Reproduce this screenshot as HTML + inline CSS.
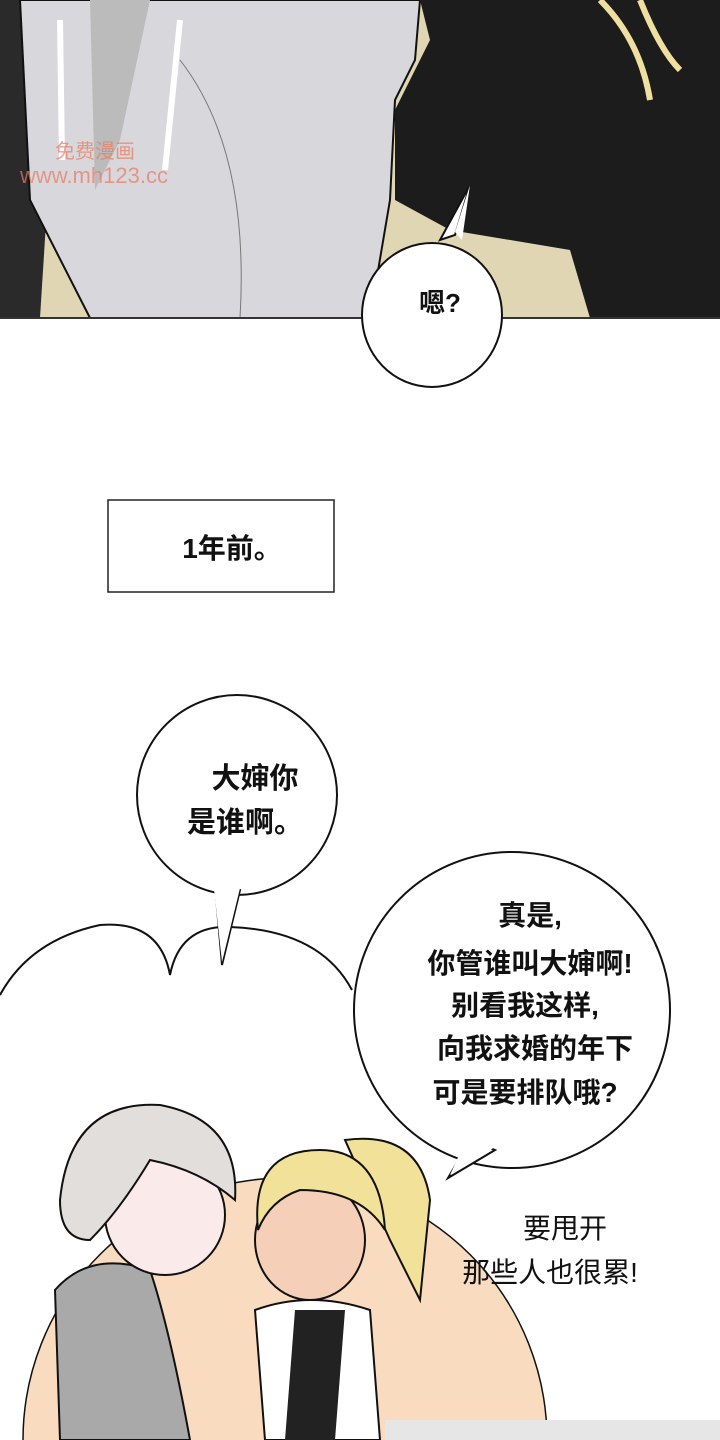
<!DOCTYPE html>
<html><head><meta charset="utf-8"><style>
html,body{margin:0;padding:0;background:#fff;width:720px;height:1440px;overflow:hidden}
svg{display:block}
text{font-family:"Liberation Sans","Noto Sans CJK SC",sans-serif;font-weight:bold;fill:#111}
</style></head><body>
<svg width="720" height="1440" viewBox="0 0 720 1440" xmlns="http://www.w3.org/2000/svg">
<rect x="0" y="0" width="720" height="318" fill="#e0d6b4"/>
<path d="M0 0 L60 0 L40 318 L0 318Z" fill="#2a2a2a"/>
<path d="M20 0 L420 0 L415 60 L395 100 L390 200 L370 318 L90 318 L30 200Z" fill="#d8d8dc" stroke="#111" stroke-width="2"/>
<path d="M90 0 L150 0 L120 140 L95 190Z" fill="#bbb"/>
<path d="M60 20 L62 160 M180 20 L165 170" stroke="#fff" stroke-width="6"/>
<path d="M180 60 Q250 150 240 318" stroke="#777" fill="none"/>
<path d="M420 0 L720 0 L720 318 L590 318 L570 250 L450 230 L395 200 L395 110 L430 40Z" fill="#1c1c1c"/>
<path d="M600 0 Q640 40 650 100 M640 0 Q660 50 680 70" stroke="#efe0a0" stroke-width="6" fill="none"/>
<line x1="0" y1="318" x2="720" y2="318" stroke="#333" stroke-width="2"/>
<text x="55" y="158" font-size="20" style="fill:#e87a60;font-weight:normal" opacity="0.7">免费漫画</text>
<text x="20" y="183" font-size="22" style="fill:#e87a60;font-weight:normal" opacity="0.7">www.mh123.cc</text>
<path d="M470 185 L455 235 L440 240Z" fill="#fff" stroke="#111" stroke-width="2"/>
<ellipse cx="432" cy="315" rx="70" ry="72" fill="#fff" stroke="#111" stroke-width="2"/>
<path d="M455 232 L470 185 L462 240" fill="#fff"/>
<text x="440" y="312" font-size="26" text-anchor="middle">嗯?</text>
<rect x="108" y="500" width="226" height="92" fill="#fff" stroke="#222" stroke-width="1.5"/>
<text x="232" y="558" font-size="28" text-anchor="middle">1年前。</text>
<path d="M0 995 Q30 940 100 925 Q160 920 170 975 Q180 925 230 927 Q320 930 352 990" fill="none" stroke="#111" stroke-width="2"/>
<circle cx="285" cy="1440" r="262" fill="#f9dcc0" stroke="#111" stroke-width="1.5"/>
<circle cx="237" cy="795" r="100" fill="#fff" stroke="#111" stroke-width="2"/>
<path d="M215 885 L222 965 L240 890Z" fill="#fff" stroke="#111" stroke-width="2"/>
<path d="M213 880 L222 962 L242 880Z" fill="#fff"/>
<text x="255" y="788" font-size="29" text-anchor="middle">大婶你</text>
<text x="245" y="832" font-size="29" text-anchor="middle">是谁啊。</text>
<circle cx="512" cy="1010" r="158" fill="#fff" stroke="#111" stroke-width="2"/>
<path d="M470 1140 L448 1178 L495 1150Z" fill="#fff" stroke="#111" stroke-width="2"/>
<path d="M468 1135 L450 1175 L498 1145Z" fill="#fff"/>
<text x="530" y="925" font-size="28" text-anchor="middle">真是,</text>
<text x="530" y="973" font-size="28" text-anchor="middle">你管谁叫大婶啊!</text>
<text x="525" y="1015" font-size="28" text-anchor="middle">别看我这样,</text>
<text x="535" y="1058" font-size="28" text-anchor="middle">向我求婚的年下</text>
<text x="525" y="1102" font-size="28" text-anchor="middle">可是要排队哦?</text>
<text x="565" y="1238" font-size="28" text-anchor="middle" style="font-weight:normal">要甩开</text>
<text x="550" y="1282" font-size="28" text-anchor="middle" style="font-weight:normal">那些人也很累!</text>
<path d="M55 1290 Q90 1250 150 1270 Q170 1330 190 1440 L60 1440Z" fill="#a9a9a9" stroke="#111" stroke-width="2"/>
<ellipse cx="165" cy="1215" rx="60" ry="60" fill="#fbeaea" stroke="#111" stroke-width="2"/>
<path d="M60 1200 Q70 1100 160 1105 Q240 1120 235 1200 Q200 1170 150 1160 Q120 1210 90 1240 Q60 1240 60 1200Z" fill="#e2dedc" stroke="#111" stroke-width="2"/>
<path d="M345 1140 Q420 1130 430 1200 L420 1300 L390 1240Z" fill="#f2e199" stroke="#111" stroke-width="2"/>
<ellipse cx="310" cy="1240" rx="55" ry="60" fill="#f5cfb8" stroke="#111" stroke-width="2"/>
<path d="M258 1230 Q250 1150 320 1150 Q380 1150 385 1230 Q360 1190 300 1190 Q270 1200 258 1230Z" fill="#f2e199" stroke="#111" stroke-width="2"/>
<path d="M255 1310 Q310 1290 370 1310 L380 1440 L265 1440Z" fill="#fff" stroke="#111" stroke-width="2"/>
<path d="M295 1310 L345 1310 L335 1440 L285 1440Z" fill="#222"/>
<rect x="385" y="1420" width="335" height="20" fill="#e6e6e6"/>
</svg>
</body></html>
